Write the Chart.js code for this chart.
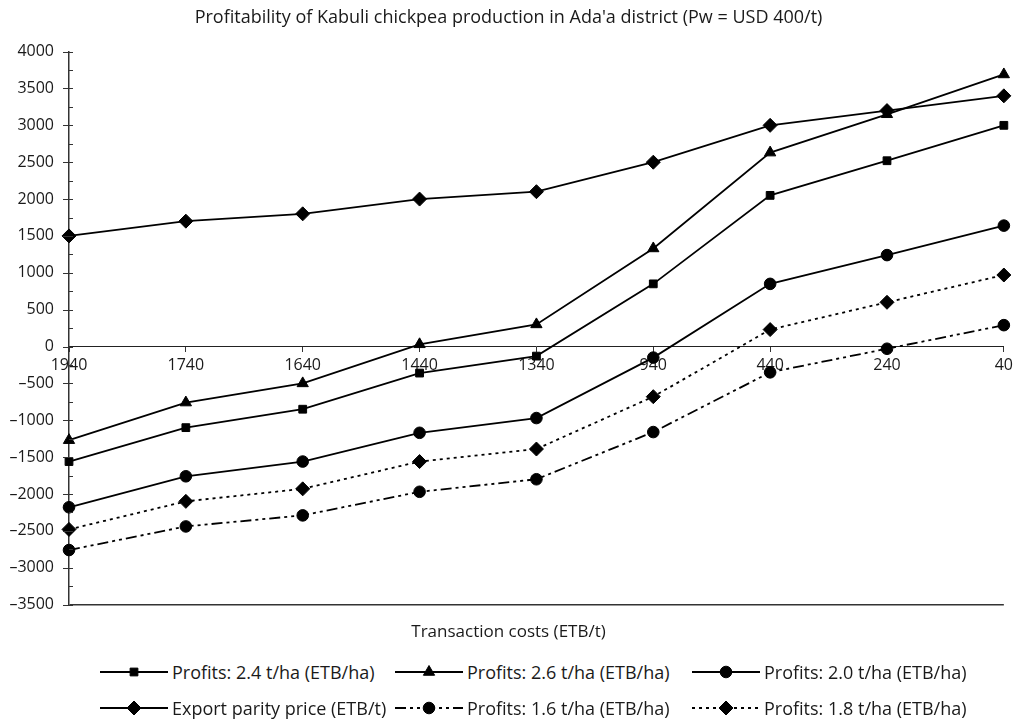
<!DOCTYPE html>
<html>
<head>
<meta charset="utf-8">
<script src="https://cdn.jsdelivr.net/npm/chart.js@4.4.1/dist/chart.umd.min.js"></script>
<style>
    html, body { margin: 0; padding: 0; background: #fff; }
    body { width: 1017px; height: 721px; overflow: hidden; font-family: 'Open Sans', sans-serif; color: #1a1a1a; }
    #chartBox { position: relative; width: 1017px; height: 650px; }
    #legend { display: grid; grid-template-columns: 295px 297px auto; padding: 4px 0 0 100px; }
    .item { display: flex; align-items: center; height: 36px; font-size: 18px; white-space: nowrap; }
    .item canvas { margin-right: 4px; }
</style>
</head>
<body>
<div id="chartBox"><canvas id="chart"></canvas></div>
<div id="legend"></div>
<script>
const categories = ['1940', '1740', '1640', '1440', '1340', '940', '440', '240', '40'];
const profits24 = [-1560, -1100, -850, -360, -130, 850, 2050, 2520, 3000];
const profits26 = [-1270, -760, -500, 30, 300, 1330, 2630, 3150, 3690];
const profits20 = [-2180, -1760, -1560, -1170, -970, -150, 850, 1240, 1640];
const exportParity = [1500, 1700, 1800, 2000, 2100, 2500, 3000, 3200, 3400];
const profits16 = [-2760, -2440, -2290, -1970, -1800, -1160, -350, -30, 290];
const profits18 = [-2480, -2100, -1930, -1560, -1390, -680, 230, 600, 970];
const yMin = -3500;
const yMax = 4000;
const yStep = 500;

const ink = '#1a1a1a';
Chart.defaults.font.family = "'Open Sans', sans-serif";
Chart.defaults.color = ink;

function series(label, data, pointStyle, radius, dash) {
    return {
        label,
        data,
        borderColor: '#000',
        borderWidth: 1.8,
        borderDash: dash,
        backgroundColor: '#000',
        pointStyle,
        pointRadius: radius,
        pointBackgroundColor: '#000',
        pointBorderColor: '#000',
        pointBorderWidth: 1,
        tension: 0,
        clip: false
    };
}

// y axis ticks cross the axis line, minor ticks every 250 on the inside
const axisTicks = {
    id: 'axisTicks',
    afterDraw(chart) {
        const y = chart.scales.y;
        const x0 = chart.chartArea.left;
        const ctx = chart.ctx;
        ctx.save();
        ctx.strokeStyle = '#333';
        ctx.lineWidth = 1;
        for (let v = yMin; v <= yMax; v += yStep / 2) {
            const py = Math.round(y.getPixelForValue(v)) + 0.5;
            const major = v % yStep === 0;
            ctx.beginPath();
            ctx.moveTo(major ? x0 - 6 : x0, py);
            ctx.lineTo(x0 + 4, py);
            ctx.stroke();
        }
        ctx.restore();
    }
};

const chart = new Chart(document.getElementById('chart'), {
    type: 'line',
    data: {
        labels: categories,
        datasets: [
            series('Profits: 2.4 t/ha (ETB/ha)', profits24, 'rect', 5.5, []),
            series('Profits: 2.6 t/ha (ETB/ha)', profits26, 'triangle', 6.5, []),
            series('Profits: 2.0 t/ha (ETB/ha)', profits20, 'circle', 5.8, []),
            series('Export parity price (ETB/t)', exportParity, 'rectRot', 7, []),
            series('Profits: 1.6 t/ha (ETB/ha)', profits16, 'circle', 5.8, [11, 4, 3, 4, 3, 4]),
            series('Profits: 1.8 t/ha (ETB/ha)', profits18, 'rectRot', 7, [3, 4])
        ]
    },
    options: {
        responsive: true,
        maintainAspectRatio: false,
        animation: false,
        layout: { padding: 0 },
        plugins: {
            legend: { display: false },
            tooltip: { enabled: false },
            title: {
                display: true,
                text: "Profitability of Kabuli chickpea production in Ada'a district (Pw = USD 400/t)",
                font: { size: 18, weight: 'normal' },
                color: ink,
                padding: { top: 7, bottom: 23 }
            },
            subtitle: {
                display: true,
                position: 'bottom',
                text: 'Transaction costs (ETB/t)',
                font: { size: 17, weight: 'normal' },
                color: ink,
                padding: { top: 17, bottom: 8 }
            }
        },
        scales: {
            x: {
                type: 'category',
                position: { y: 0 },
                offset: false,
                grid: { drawOnChartArea: false, drawTicks: true, tickLength: 5, color: '#333' },
                border: { color: '#222', width: 1 },
                ticks: { font: { size: 16 }, color: ink, padding: 4, maxRotation: 0, autoSkip: false },
                afterFit: s => { s.height = 0; }
            },
            y: {
                min: yMin,
                max: yMax,
                ticks: {
                    stepSize: yStep,
                    font: { size: 16 },
                    color: ink,
                    padding: 15,
                    callback: v => (v < 0 ? '\u2013' + Math.abs(v) : String(v))
                },
                grid: {
                    drawTicks: false,
                    color: c => (c.tick && c.tick.value === yMin ? '#333' : 'rgba(0,0,0,0)'),
                    lineWidth: 1.5
                },
                border: { color: '#333', width: 1.5 },
                afterFit: s => { s.width = 69; }
            }
        }
    },
    plugins: [axisTicks]
});

// legend: line + marker, three columns
const legendEl = document.getElementById('legend');
chart.data.datasets.forEach(ds => {
    const item = document.createElement('div');
    item.className = 'item';
    const c = document.createElement('canvas');
    c.width = 68;
    c.height = 20;
    const g = c.getContext('2d');
    g.strokeStyle = ds.borderColor;
    g.lineWidth = ds.borderWidth;
    g.setLineDash(ds.borderDash);
    g.beginPath();
    g.moveTo(0, 10);
    g.lineTo(68, 10);
    g.stroke();
    g.setLineDash([]);
    g.fillStyle = ds.pointBackgroundColor;
    g.strokeStyle = ds.pointBorderColor;
    g.lineWidth = 1;
    Chart.helpers.drawPoint(g, { pointStyle: ds.pointStyle, radius: ds.pointRadius, rotation: 0, borderWidth: 1 }, 34, 10);
    const span = document.createElement('span');
    span.textContent = ds.label;
    item.append(c, span);
    legendEl.append(item);
});
</script>
</body>
</html>
